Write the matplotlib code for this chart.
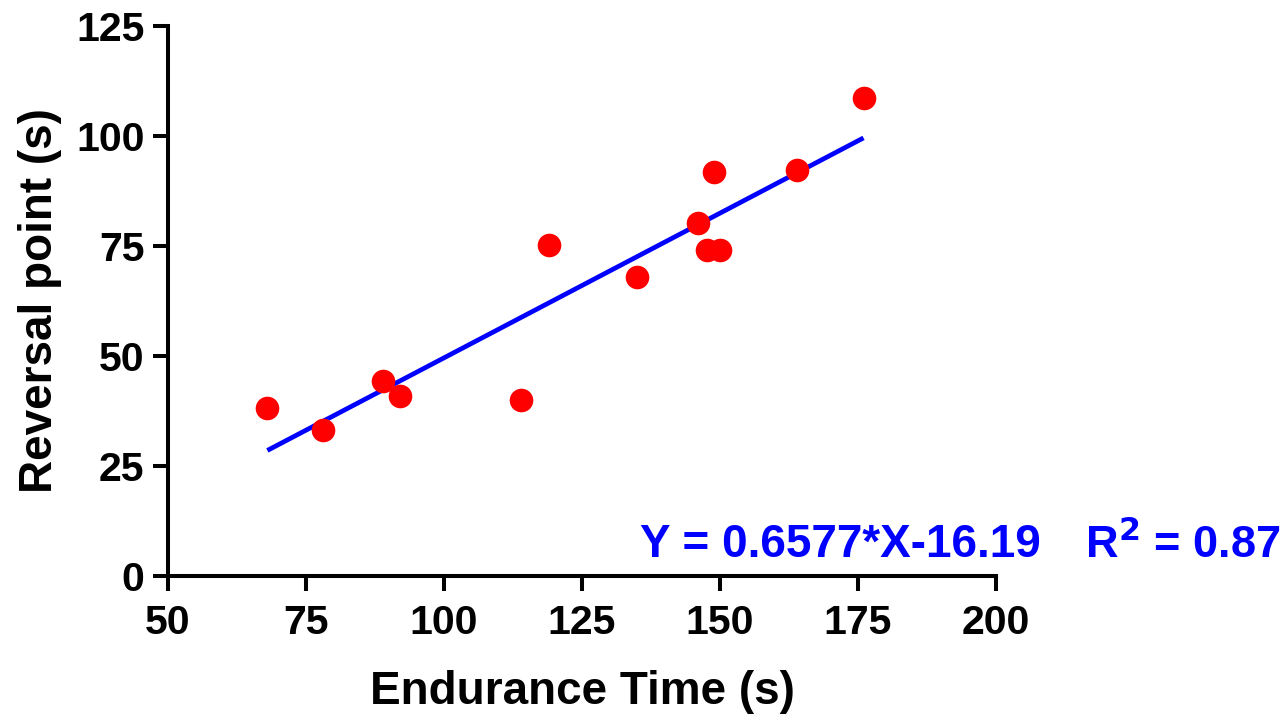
import matplotlib
matplotlib.use("Agg")
import matplotlib.pyplot as plt
import numpy as np

endurance_time = [68, 78, 89, 92, 114, 119, 135, 146, 147.6, 150, 149, 164, 176]
reversal_point = [38.2, 33.2, 44.3, 40.9, 40.0, 75.2, 68.0, 80.2, 74.1, 74.1, 91.8, 92.3, 108.6]
slope = 0.6577
intercept = -16.19
fit_range = [68, 176]
x_ticks = [50, 75, 100, 125, 150, 175, 200]
y_ticks = [0, 25, 50, 75, 100, 125]

plt.rcParams['font.family'] = ['Liberation Sans', 'DejaVu Sans']
plt.rcParams['font.weight'] = 'bold'

fig = plt.figure(figsize=(12.86, 7.21), dpi=100)
ax = fig.add_axes([168/1286, 1-576/721, 828/1286, 550/721])

xf = np.array(fit_range)
ax.plot(xf, slope*xf + intercept, color='#0000ff', lw=3.4, zorder=2, solid_capstyle='butt')
ax.plot(endurance_time, reversal_point, 'o', color='#ff0000', ms=17, mec='none', zorder=3)

ax.set_xlim(50, 200)
ax.set_ylim(0, 125)
ax.set_xticks(x_ticks)
ax.set_yticks(y_ticks)
ax.set_xticklabels([str(t) for t in x_ticks], fontsize=29.5, fontweight='bold')
ax.set_yticklabels([str(t) for t in y_ticks], fontsize=29.5, fontweight='bold')
for s in ['top', 'right']:
    ax.spines[s].set_visible(False)
for s in ['left', 'bottom']:
    ax.spines[s].set_linewidth(2.9)
ax.tick_params(axis='x', direction='out', length=11, width=2.9, pad=9)
ax.tick_params(axis='y', direction='out', length=11, width=2.9, pad=6)
ax.set_xlabel('Endurance Time (s)', fontsize=33, fontweight='bold', labelpad=20)
ax.set_ylabel('Reversal point (s)', fontsize=33, fontweight='bold', labelpad=10)

fig.text(640/1286, 1-545/721, 'Y = 0.6577*X-16.19', color='#0000ff', fontsize=33,
         fontweight='bold', va='center', ha='left')
fig.text(1085/1286, 1-545/721, r'R$^\mathbf{2}$ = 0.87', color='#0000ff', fontsize=32.5,
         fontweight='bold', va='center', ha='left')

fig.savefig('out.png', dpi=100)
